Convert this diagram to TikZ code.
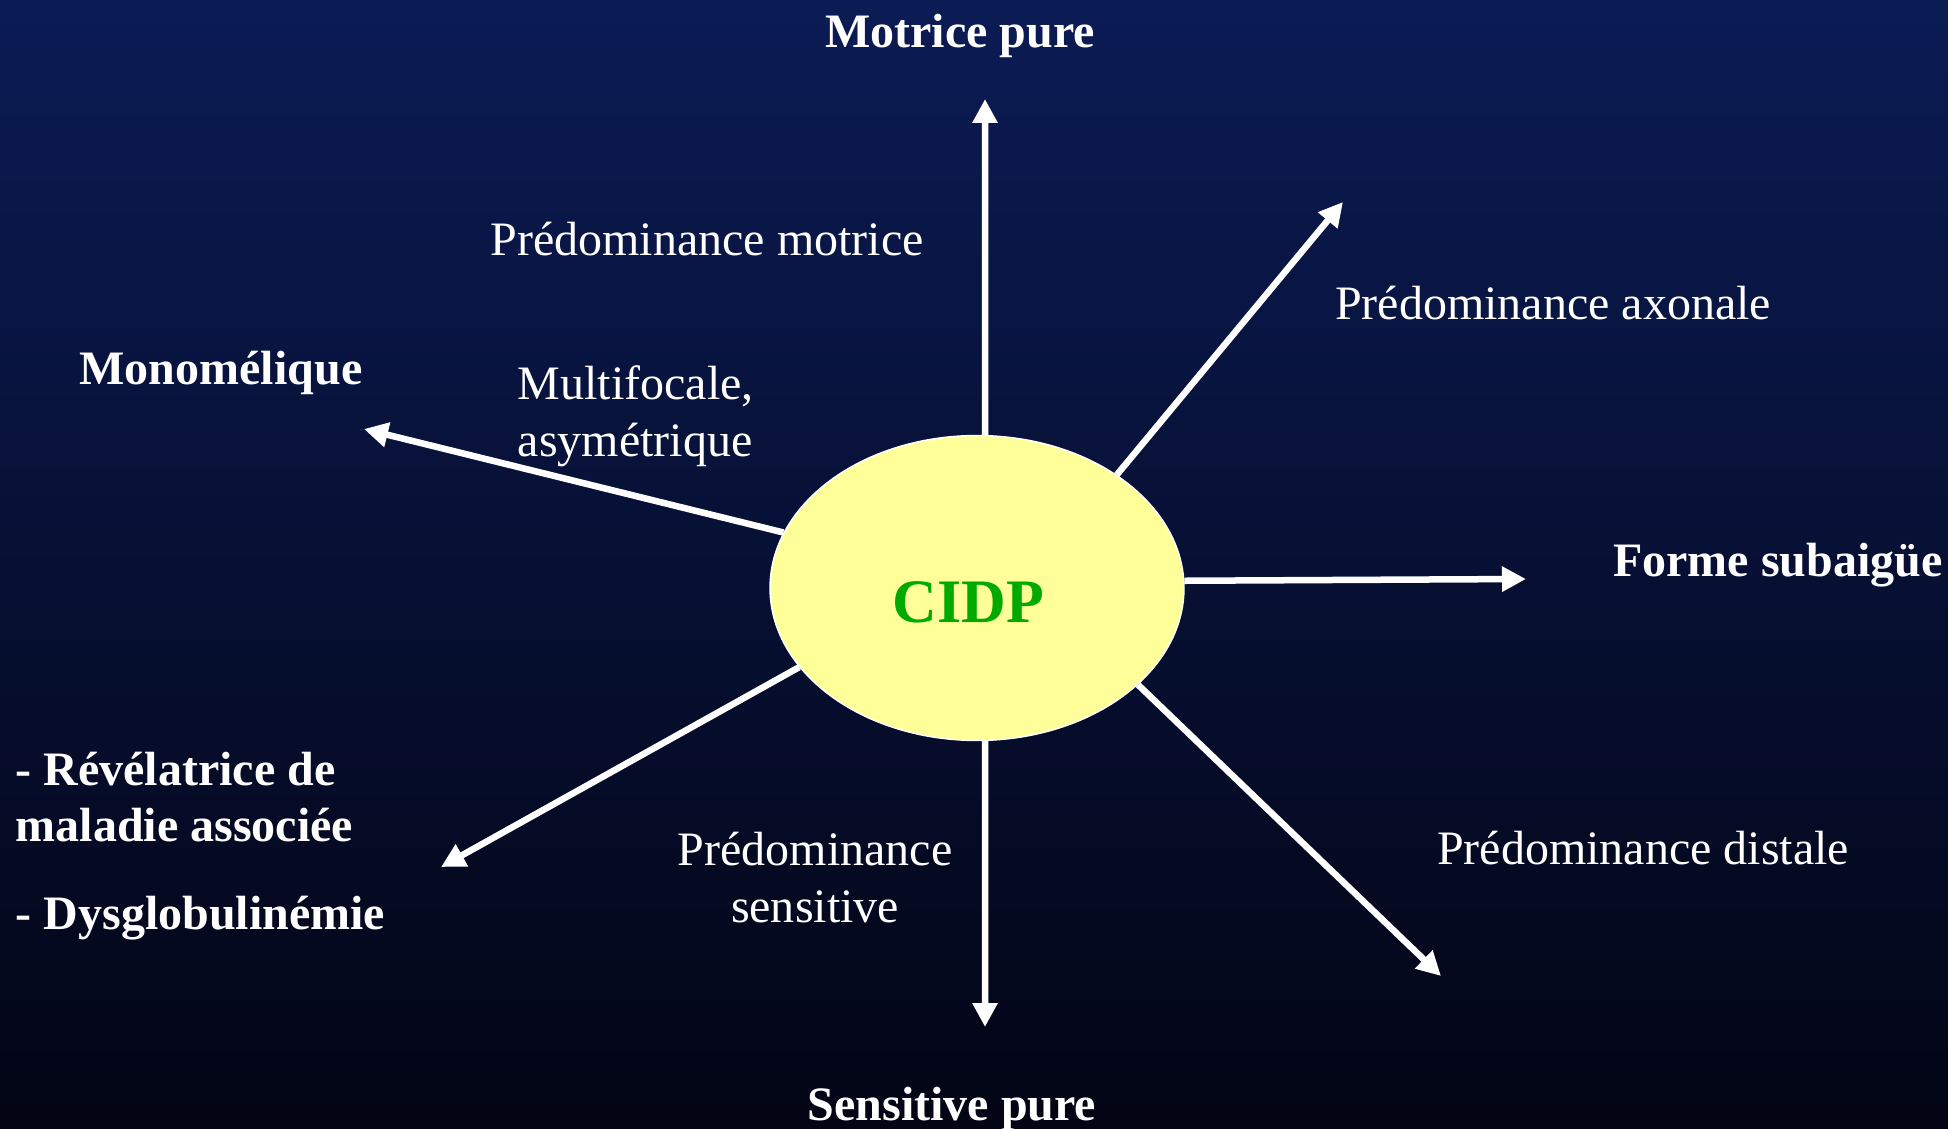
\documentclass[tikz,border=0pt]{standalone}
\usepackage{fontspec}
\setmainfont{Liberation Serif}
\usetikzlibrary{arrows.meta, shapes.geometric}
\definecolor{bgtop}{RGB}{11,27,84}
\definecolor{bgbot}{RGB}{3,5,20}
\definecolor{cidpfill}{RGB}{255,255,153}
\definecolor{cidpgreen}{RGB}{0,170,0}
\begin{document}
\begin{tikzpicture}[
	txt/.style={text=white, font=\fontsize{13.66pt}{16.2pt}\selectfont, inner sep=0pt, text height=0.7em, text depth=0.2em},
	bold/.style={txt, font=\fontsize{13.66pt}{16pt}\selectfont\bfseries},
	ray/.style={draw=white, line width=0.065cm, -{Triangle[length=0.24cm, width=0.24cm]}}
]
\shade[top color=bgtop, bottom color=bgbot] (0, 0) rectangle (19.48, -11.29);
\useasboundingbox (0, 0) rectangle (19.48, -11.29);

\node[ellipse, draw=white, thin, fill=cidpfill, minimum width=4.14cm, minimum height=3.05cm, inner sep=0pt,
	text=cidpgreen, text height=19.6pt, text depth=0pt, font=\fontsize{17.6pt}{20pt}\selectfont\bfseries] (cidp) at (9.77, -5.88) {CIDP\hspace*{5pt}};

\coordinate (tipup) at (9.85, -0.99);
\coordinate (tipur) at (13.43, -2.02);
\coordinate (tipul) at (3.64, -4.29);
\coordinate (tipr) at (15.26, -5.79);
\coordinate (tipll) at (4.41, -8.67);
\coordinate (tipd) at (9.85, -10.27);
\coordinate (tiplr) at (14.41, -9.76);

\node[bold] (motpure) at (9.60, -0.39) {Motrice pure};
\node[txt] (predmot) at (7.07, -2.47) {Prédominance motrice};
\node[txt] (predaxo) at (15.53, -3.11) {Prédominance axonale};
\node[bold] (monomel) at (2.21, -3.76) {Monomélique};
\node[txt, align=left, anchor=west] (multifoc) at (5.17, -4.48) {Multifocale,\\asymétrique};
\node[bold] (subaig) at (17.78, -5.68) {Forme subaigüe};
\node[bold, align=left, anchor=west] (assoc) at (0.15, -9.21) {- Révélatrice de\\maladie associée\\[9pt]- Dysglobulinémie};
\node[txt, align=center] (predsens) at (8.15, -9.14) {Prédominance\\sensitive};
\node[txt] (preddist) at (16.43, -8.56) {Prédominance distale};
\node[bold] (senspure) at (9.52, -11.12) {Sensitive pure};

\draw[ray] (cidp.87) -- (tipup);
\draw[ray] (cidp.39) -- (tipur);
\draw[ray] (cidp.164) -- (tipul);
\draw[ray] (cidp.2.5) -- (tipr);
\draw[ray] (cidp.204) -- (tipll);
\draw[ray] (cidp.273) -- (tipd);
\draw[ray] (cidp.329) -- (tiplr);
\end{tikzpicture}
\end{document}
